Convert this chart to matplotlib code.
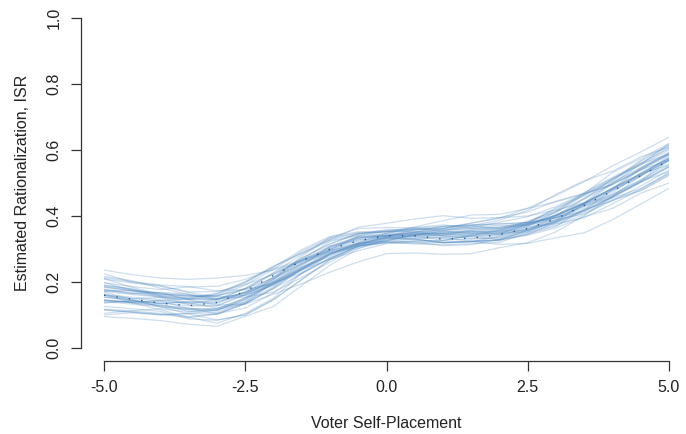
import numpy as np
import matplotlib
matplotlib.use("Agg")
import matplotlib.pyplot as plt

plt.rcParams['font.family'] = ['Liberation Sans', 'DejaVu Sans']

# voter self-placement grid
x_vals = [-5.0, -4.5, -4.0, -3.5, -3.0, -2.5, -2.0, -1.5, -1.0, -0.5, 0.0,
          0.5, 1.0, 1.5, 2.0, 2.5, 3.0, 3.5, 4.0, 4.5, 5.0]

# mean estimate (dotted line)
mean_isr = [.160, .148, .136, .128, .138, .172, .220, .264, .300, .325, .340,
            .340, .330, .333, .344, .362, .392, .432, .476, .522, .568]

# bootstrap draws
draws = [
    [.236, .222, .212, .208, .212, .220, .236, .262, .291, .313, .331, .339, .342, .345, .349, .352, .376, .395, .437, .482, .530],
    [.095, .090, .083, .072, .066, .096, .126, .189, .251, .301, .331, .339, .342, .358, .361, .378, .422, .461, .506, .566, .612],
    [.176, .165, .156, .150, .164, .200, .247, .287, .328, .366, .378, .391, .401, .393, .395, .400, .418, .440, .485, .529, .575],
    [.172, .162, .154, .146, .130, .133, .163, .195, .230, .261, .286, .288, .284, .286, .304, .319, .352, .401, .460, .522, .569],
    [.160, .150, .142, .120, .118, .152, .198, .241, .285, .307, .325, .344, .361, .378, .393, .424, .462, .504, .552, .594, .639],
    [.184, .173, .164, .158, .158, .177, .224, .266, .309, .328, .335, .331, .320, .323, .314, .317, .334, .349, .389, .436, .484],
    [.144, .137, .129, .120, .117, .134, .180, .225, .271, .308, .328, .334, .336, .339, .343, .359, .383, .435, .479, .523, .570],
    [.185, .173, .164, .158, .159, .180, .211, .253, .296, .327, .342, .352, .358, .362, .365, .382, .413, .452, .497, .541, .587],
    [.162, .154, .146, .137, .135, .169, .215, .273, .316, .347, .352, .361, .353, .356, .360, .376, .403, .439, .483, .527, .574],
    [.116, .109, .102, .092, .103, .135, .182, .240, .298, .340, .355, .365, .373, .364, .367, .371, .400, .437, .465, .509, .556],
    [.213, .201, .191, .186, .173, .178, .194, .238, .269, .295, .316, .321, .321, .324, .328, .344, .381, .416, .459, .504, .551],
    [.154, .144, .136, .128, .127, .161, .208, .264, .306, .335, .339, .349, .342, .346, .349, .379, .425, .465, .511, .554, .600],
    [.118, .112, .105, .095, .104, .136, .198, .256, .300, .333, .340, .348, .351, .354, .345, .361, .385, .420, .446, .491, .539],
    [.217, .204, .181, .162, .149, .168, .199, .242, .286, .319, .336, .345, .349, .353, .356, .373, .402, .439, .484, .545, .591],
    [.154, .146, .125, .116, .113, .145, .207, .279, .335, .362, .365, .364, .357, .361, .364, .381, .410, .464, .509, .569, .615],
    [.170, .146, .125, .103, .085, .101, .147, .208, .268, .303, .321, .317, .319, .322, .339, .355, .382, .418, .479, .523, .569],
    [.145, .138, .143, .134, .147, .181, .228, .284, .326, .344, .359, .358, .362, .379, .395, .412, .445, .469, .514, .558, .587],
    [.191, .179, .157, .137, .121, .139, .186, .244, .288, .310, .318, .324, .326, .342, .346, .375, .404, .441, .503, .547, .593],
    [.178, .168, .160, .152, .166, .201, .248, .288, .330, .348, .353, .351, .341, .331, .335, .364, .388, .440, .484, .528, .575],
    [.115, .108, .101, .105, .102, .134, .181, .239, .283, .316, .323, .331, .334, .324, .328, .357, .384, .436, .481, .542, .588],
    [.210, .184, .162, .156, .156, .191, .238, .293, .334, .349, .353, .363, .369, .373, .376, .380, .394, .430, .456, .501, .548],
    [.145, .137, .129, .120, .104, .121, .167, .227, .272, .307, .325, .344, .348, .352, .355, .385, .416, .471, .517, .560, .606],
    [.190, .179, .158, .150, .149, .168, .214, .257, .288, .311, .321, .315, .313, .316, .320, .349, .371, .405, .447, .476, .523],
    [.126, .119, .111, .088, .084, .100, .146, .207, .267, .313, .340, .350, .369, .373, .376, .380, .396, .433, .461, .505, .535],
    [.198, .186, .177, .185, .187, .208, .240, .266, .295, .317, .335, .343, .346, .349, .353, .369, .396, .415, .458, .503, .550],
    [.164, .141, .133, .111, .108, .140, .202, .260, .303, .334, .339, .337, .327, .330, .334, .350, .390, .426, .470, .531, .577],
    [.172, .175, .166, .160, .145, .164, .195, .239, .284, .319, .347, .367, .386, .403, .405, .423, .443, .467, .495, .539, .585],
    [.100, .107, .100, .104, .115, .149, .195, .253, .309, .338, .342, .341, .333, .336, .340, .369, .413, .468, .532, .574, .620],
    [.225, .199, .189, .170, .171, .192, .223, .265, .294, .316, .334, .330, .319, .322, .326, .342, .364, .398, .423, .469, .500],
    [.138, .143, .135, .141, .141, .160, .191, .234, .292, .323, .338, .359, .367, .371, .361, .378, .394, .431, .476, .520, .583],
    [.146, .139, .144, .149, .148, .167, .198, .227, .273, .310, .320, .325, .325, .341, .345, .374, .401, .437, .498, .559, .605],
    [.176, .165, .169, .163, .150, .154, .169, .214, .260, .309, .337, .346, .338, .341, .357, .374, .388, .407, .450, .478, .526],
    [.136, .143, .135, .139, .137, .171, .202, .246, .277, .314, .334, .340, .355, .371, .387, .417, .466, .507, .536, .579, .609],
    [.159, .149, .153, .147, .161, .197, .244, .298, .338, .352, .355, .354, .347, .338, .329, .345, .369, .421, .465, .509, .572],
    [.209, .197, .187, .168, .155, .159, .190, .248, .306, .337, .342, .351, .355, .346, .350, .366, .377, .412, .455, .483, .531],
    [.105, .113, .119, .109, .120, .152, .214, .272, .315, .346, .351, .360, .364, .368, .371, .375, .402, .438, .482, .526, .556],
    [.160, .137, .116, .093, .075, .105, .151, .227, .285, .318, .325, .321, .310, .313, .330, .359, .401, .455, .500, .544, .590],
    [.187, .176, .167, .147, .146, .180, .227, .269, .298, .331, .348, .357, .361, .365, .381, .398, .429, .468, .496, .540, .570],
    [.141, .133, .125, .116, .114, .148, .194, .237, .281, .314, .331, .329, .319, .322, .326, .355, .397, .451, .513, .556, .619],
    [.199, .174, .153, .131, .129, .163, .209, .267, .323, .341, .346, .344, .347, .350, .354, .357, .381, .416, .459, .504, .568],
]

fig = plt.figure(figsize=(6.86, 4.34), dpi=100)
ax = fig.add_axes([104 / 686, 86 / 434, 565 / 686, 330 / 434])

for d in draws:
    ax.plot(x_vals, d, color='#4a86c0', alpha=0.27, lw=0.9, solid_capstyle='round')
ax.plot(x_vals, mean_isr, color='#1f5a96', lw=1.0, linestyle=(0, (1, 8)))

ax.set_xlim(-5, 5)
ax.set_ylim(0, 1)

# R-style detached axes
for side in ['top', 'right']:
    ax.spines[side].set_visible(False)
ax.spines['bottom'].set_position(('outward', 9.4))
ax.spines['left'].set_position(('outward', 16.6))
ax.spines['bottom'].set_bounds(-5, 5)
ax.spines['left'].set_bounds(0, 1)
for side in ['bottom', 'left']:
    ax.spines[side].set_color('#333333')
    ax.spines[side].set_linewidth(0.9)

ax.set_xticks([-5, -2.5, 0, 2.5, 5])
ax.set_xticklabels(['-5.0', '-2.5', '0.0', '2.5', '5.0'])
ax.set_yticks([0, 0.2, 0.4, 0.6, 0.8, 1.0])
ax.set_yticklabels(['0.0', '0.2', '0.4', '0.6', '0.8', '1.0'], rotation=90, va='center')
ax.tick_params(length=7, width=0.9, color='#333333', labelsize=11.5, labelcolor='#222222', pad=7)

ax.set_xlabel('Voter Self-Placement', fontsize=11.5, color='#222222', labelpad=15)
ax.set_ylabel('Estimated Rationalization, ISR', fontsize=11.5, color='#222222', labelpad=12)

fig.savefig('out.png', dpi=100)
